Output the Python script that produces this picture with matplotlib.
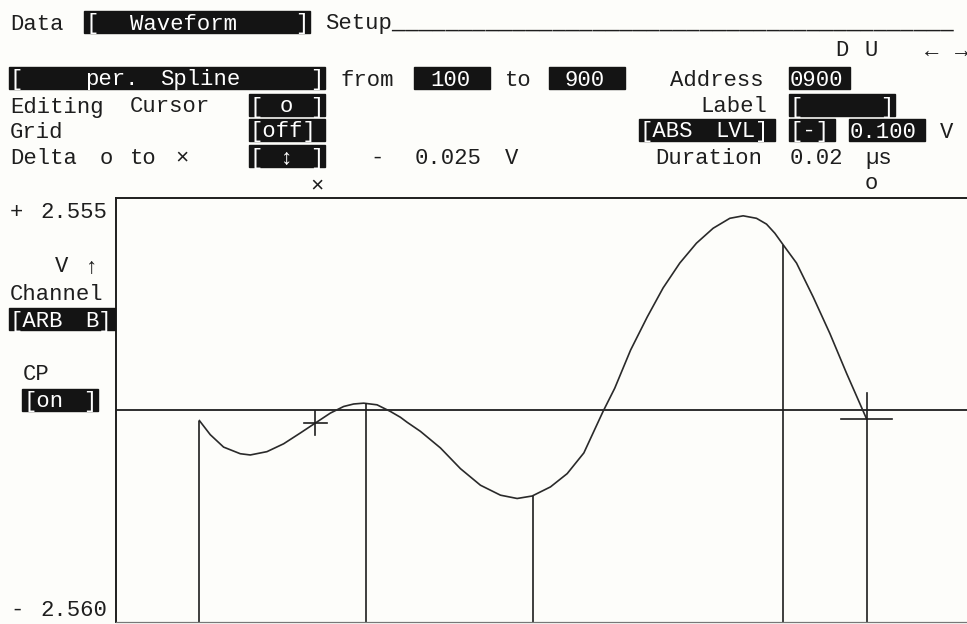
import matplotlib
matplotlib.use("Agg")
import matplotlib.pyplot as plt
from matplotlib.patches import Rectangle

# waveform: address vs volts
wave_addr = [100, 113, 129, 149, 161, 181, 201, 221, 239, 257, 273, 285, 297,
             313, 329, 341, 349, 365, 389, 413, 437, 461, 481, 499, 521, 541,
             561, 584, 598, 617, 637, 656, 676, 696, 716, 736, 752, 768, 780,
             790, 800, 816, 836, 856, 876, 900]
wave_volt = [-0.13, -0.30, -0.45, -0.53, -0.545, -0.505, -0.41, -0.28, -0.16,
             -0.04, 0.04, 0.07, 0.08, 0.06, -0.02, -0.09, -0.15, -0.26, -0.46,
             -0.71, -0.91, -1.03, -1.07, -1.04, -0.93, -0.77, -0.52, -0.02,
             0.26, 0.72, 1.12, 1.47, 1.77, 2.01, 2.19, 2.31, 2.34, 2.31, 2.24,
             2.13, 1.99, 1.77, 1.36, 0.92, 0.44, -0.11]

# spline control points (drop lines)
ctrl_addr = [100, 300, 500, 800, 900]
ctrl_volt = [-0.13, 0.08, -1.04, 1.99, -0.11]

cursor_x = (239, -0.16)
cursor_o = (900, -0.11)
level_volt = 0.0
v_top, v_bottom = 2.555, -2.560

W, H = 967, 624
CELL = 15
INK = "#1e1e1e"
PAPER = "#fdfdfa"
FONT = ["Liberation Mono", "DejaVu Sans Mono"]

fig = plt.figure(figsize=(W / 100, H / 100), dpi=100, facecolor=PAPER)


def put(x, y, s, inverse=False):
    # screen text on a character grid, one text per word
    if inverse:
        fig.add_artist(Rectangle(((x - 1) / W, 1 - (y + 11) / H),
                                 (len(s) * CELL + 1) / W, 22 / H,
                                 transform=fig.transFigure, color="#141414",
                                 zorder=2))
    col = "white" if inverse else INK
    i = 0
    for word in s.split(" "):
        if word:
            fig.text((x + i * CELL) / W, 1 - (y + 7.5) / H, word, color=col,
                     family=FONT, fontsize=16, va="baseline", ha="left",
                     zorder=3)
        i += len(word) + 1


def c(col):
    return 10 + col * CELL


# header lines
put(c(0), 22, "Data")
put(c(5), 22, "[  Waveform   ]", inverse=True)
put(c(21), 22, "Setup" + "_" * 42)
put(c(55), 49, "D U   ← →")

put(c(0), 78, "[    per. Spline    ]", inverse=True)
put(c(22), 78, "from")
put(c(27), 78, " 100 ", inverse=True)
put(c(33), 78, "to")
put(c(36), 78, " 900 ", inverse=True)
put(c(44), 78, "Address")
put(c(52), 78, "0900", inverse=True)

put(c(0), 105, "Editing Cursor")
put(c(16), 105, "[ o ]", inverse=True)
put(c(46), 105, "Label")
put(c(52), 105, "[     ]", inverse=True)

put(c(0), 130, "Grid")
put(c(16), 130, "[off]", inverse=True)
put(c(42), 130, "[ABS LVL]", inverse=True)
put(c(52), 130, "[-]", inverse=True)
put(c(56), 130, "0.100", inverse=True)
put(c(62), 130, "V")

put(c(0), 156, "Delta o to ×")
put(c(16), 156, "[ ↕ ]", inverse=True)
put(c(24), 156, "-")
put(c(27), 156, "0.025")
put(c(33), 156, "V")
put(c(43), 156, "Duration")
put(c(52), 156, "0.02")
put(c(57), 156, "µs")

put(c(20), 184, "×")
put(c(57), 182, "o")

# left panel
put(c(0), 211, "+ 2.555")
put(c(3), 265, "V ↑")
put(c(0), 293, "Channel")
put(c(0), 319, "[ARB B]", inverse=True)
put(23, 372, "CP")
put(23, 400, "[on ]", inverse=True)
put(c(0), 608, "- 2.560")

# plot area
ax = fig.add_axes([116 / W, 2 / H, (970 - 116) / W, 424 / H])
ax.set_facecolor(PAPER)
ax.set_xlim(0, 1024)
ax.set_ylim(v_bottom, v_top)
ax.set_xticks([])
ax.set_yticks([])
for sp in ax.spines.values():
    sp.set_color(INK)
    sp.set_linewidth(1.4)
ax.spines["bottom"].set_linewidth(0.9)
ax.spines["bottom"].set_color("#777777")

ax.axhline(level_volt, color=INK, lw=1.3)
ax.plot(wave_addr, wave_volt, color="#2a2a2a", lw=1.2)
ax.vlines(ctrl_addr, v_bottom, ctrl_volt, color=INK, lw=1.2)

# cursors
ax.plot([cursor_x[0] - 14, cursor_x[0] + 14], [cursor_x[1]] * 2, color=INK, lw=1.2)
ax.plot([cursor_x[0]] * 2, [cursor_x[1] + 0.14, cursor_x[1] - 0.15], color=INK, lw=1.2)
ax.plot([cursor_o[0] - 31, cursor_o[0] + 31], [cursor_o[1]] * 2, color=INK, lw=1.2)
ax.plot([cursor_o[0]] * 2, [cursor_o[1], cursor_o[1] + 0.31], color=INK, lw=1.2)

fig.savefig("out.png", dpi=100, facecolor=PAPER)
